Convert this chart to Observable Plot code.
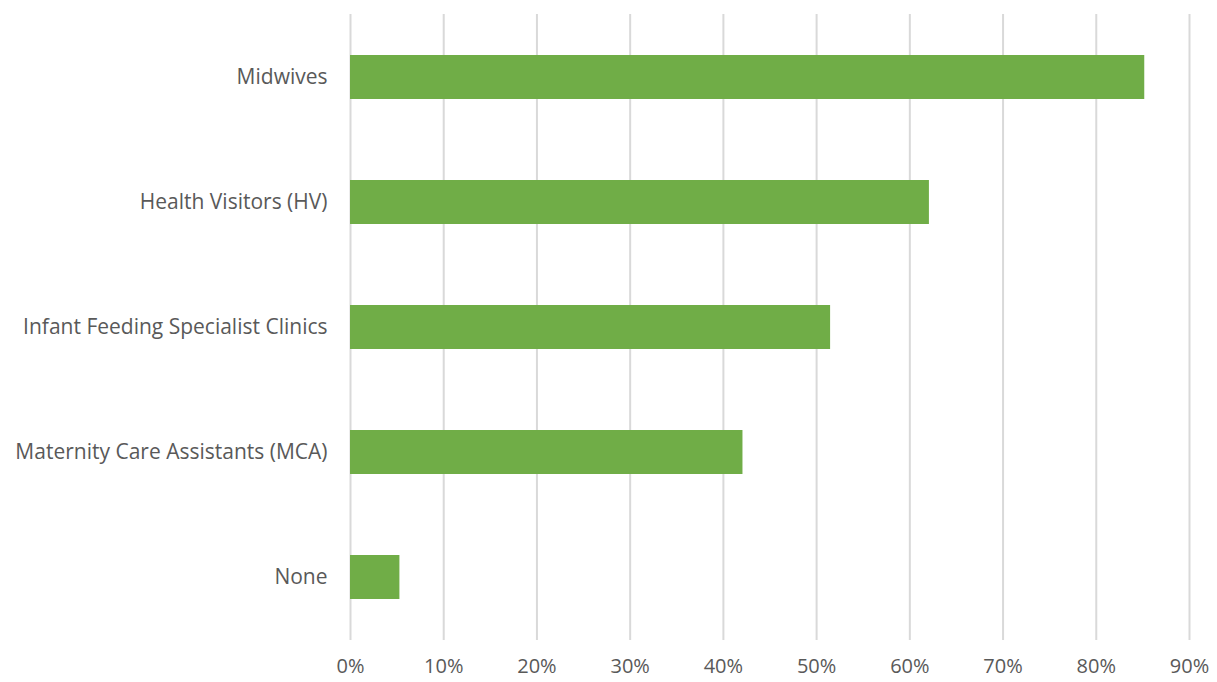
<!DOCTYPE html>
<html>
<head>
<meta charset="utf-8">
<script src="https://cdn.jsdelivr.net/npm/d3@7"></script>
<script src="https://cdn.jsdelivr.net/npm/@observablehq/plot@0.6"></script>
<style>
  html, body { margin: 0; padding: 0; background: #fff; }
  #chart svg { display: block; }
</style>
</head>
<body>
<div id="chart"></div>
<script>
// Sources of breastfeeding support, share of respondents (%)
const categories = [
  "Midwives",
  "Health Visitors (HV)",
  "Infant Feeding Specialist Clinics",
  "Maternity Care Assistants (MCA)",
  "None"
];
const shares = [85.2, 62.1, 51.5, 42.1, 5.3];
const xTicks = [0, 10, 20, 30, 40, 50, 60, 70, 80, 90];

const rows = categories.map((category, i) => ({category, share: shares[i]}));

const chart = Plot.plot({
  width: 1217,
  height: 682,
  marginLeft: 350,
  marginRight: 28,
  marginTop: 14,
  marginBottom: 42,
  style: {
    fontFamily: "'Open Sans', sans-serif",
    fontSize: "20px",
    color: "#595959",
    background: "#fff"
  },
  x: {domain: [0, 90], ticks: xTicks, tickFormat: d => d + "%", label: null},
  // equal-width bands, each bar centred in its slot
  y: {domain: categories, paddingInner: 0.65, paddingOuter: 0.325, label: null},
  marks: [
    Plot.gridX(xTicks, {stroke: "#d9d9d9", strokeOpacity: 1, strokeWidth: 2}),
    Plot.barX(rows, {x: "share", y: "category", fill: "#70ad47"}),
    Plot.axisX({ticks: xTicks, tickFormat: d => d + "%", tickSize: 0, tickPadding: 18, fontSize: 20}),
    Plot.axisY({tickSize: 0, tickPadding: 23, fontSize: 21, style: {letterSpacing: "0.3px"}})
  ]
});

document.getElementById("chart").appendChild(chart);
</script>
</body>
</html>
